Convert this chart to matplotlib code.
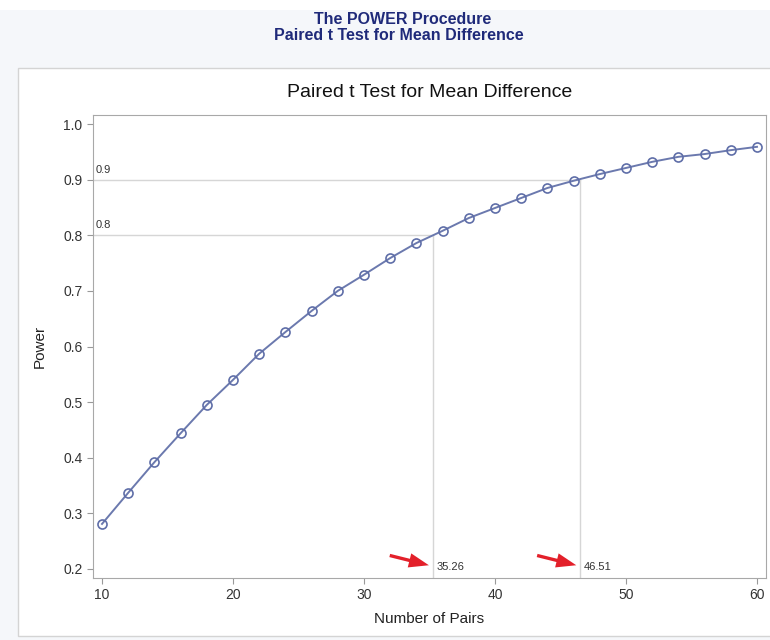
import matplotlib.pyplot as plt
from matplotlib.patches import Rectangle

# power curve for paired t test
pairs = [10, 12, 14, 16, 18, 20, 22, 24, 26, 28, 30, 32, 34,
         36, 38, 40, 42, 44, 46, 48, 50, 52, 54, 56, 58, 60]
power = [0.281, 0.337, 0.392, 0.444, 0.495, 0.540, 0.587, 0.626, 0.664,
         0.700, 0.729, 0.759, 0.786, 0.808, 0.831, 0.849, 0.867, 0.885,
         0.898, 0.910, 0.921, 0.932, 0.941, 0.946, 0.953, 0.959]

# reference power levels and the matching sample sizes
ref_power = [0.8, 0.9]
ref_n = [35.26, 46.51]
ref_n_labels = ['35.26', '46.51']
x_ticks = [10, 20, 30, 40, 50, 60]
y_ticks = [0.2, 0.3, 0.4, 0.5, 0.6, 0.7, 0.8, 0.9, 1.0]

plt.rcParams['font.family'] = ['Liberation Sans', 'DejaVu Sans']

fig = plt.figure(figsize=(7.7, 6.4), dpi=100)
fig.patch.set_facecolor('#f5f7fa')

# white strip at the top of the page and the white graph panel
fig.add_artist(Rectangle((0, 1 - 10 / 640), 1, 10 / 640, transform=fig.transFigure,
                         facecolor='white', edgecolor='none', zorder=0))
fig.add_artist(Rectangle((18 / 770, 1 - 636 / 640), 1, (636 - 68) / 640,
                         transform=fig.transFigure, facecolor='white',
                         edgecolor='#d4d4d4', linewidth=1, zorder=0))

fig.text(403 / 770, 1 - 19 / 640, 'The POWER Procedure', ha='center', va='center',
         fontsize=11.5, fontweight='bold', color='#1f2a7a')
fig.text(399 / 770, 1 - 36 / 640, 'Paired t Test for Mean Difference', ha='center',
         va='center', fontsize=11.5, fontweight='bold', color='#1f2a7a')

ax = fig.add_axes([93 / 770, 1 - 578 / 640, (766 - 93) / 770, (578 - 115) / 640])
ax.set_xlim(9.313, 60.687)
ax.set_ylim(0.1838, 1.0162)

# drop lines from the curve to the axes
for p, n in zip(ref_power, ref_n):
    ax.plot([9.313, n], [p, p], color='#d6d6d6', linewidth=1, zorder=1)
    ax.plot([n, n], [0.1838, p], color='#d6d6d6', linewidth=1, zorder=1)
    ax.text(9.55, p + 0.009, f'{p:.1f}', fontsize=8, color='#333333',
            ha='left', va='bottom')

for n, lab in zip(ref_n, ref_n_labels):
    ax.text(n + 0.25, 0.203, lab, fontsize=8, color='#333333',
            ha='left', va='center')
    ax.annotate('', xy=(n - 0.1, 0.2055), xytext=(n - 3.5, 0.2255),
                arrowprops=dict(arrowstyle='simple,head_length=0.9,head_width=0.65,tail_width=0.15',
                                mutation_scale=16, color='#e3202a', linewidth=0))

ax.plot(pairs, power, color='#6b79ae', linewidth=1.4, marker='o', markersize=6.5,
        markerfacecolor='none', markeredgecolor='#5f6ea8', markeredgewidth=1.2, zorder=3)

ax.set_title('Paired t Test for Mean Difference', fontsize=14, color='#111111', pad=13)
ax.set_xlabel('Number of Pairs', fontsize=11, color='#222222', labelpad=7)
ax.set_ylabel('Power', fontsize=11, color='#222222', labelpad=12)

ax.set_xticks(x_ticks)
ax.set_yticks(y_ticks)
ax.set_xticklabels([str(t) for t in x_ticks])
ax.set_yticklabels([f'{t:.1f}' for t in y_ticks])
ax.tick_params(colors='#999999', labelcolor='#333333', labelsize=10, length=4)
for s in ax.spines.values():
    s.set_color('#a8a8a8')

plt.savefig('out.png', dpi=100)
